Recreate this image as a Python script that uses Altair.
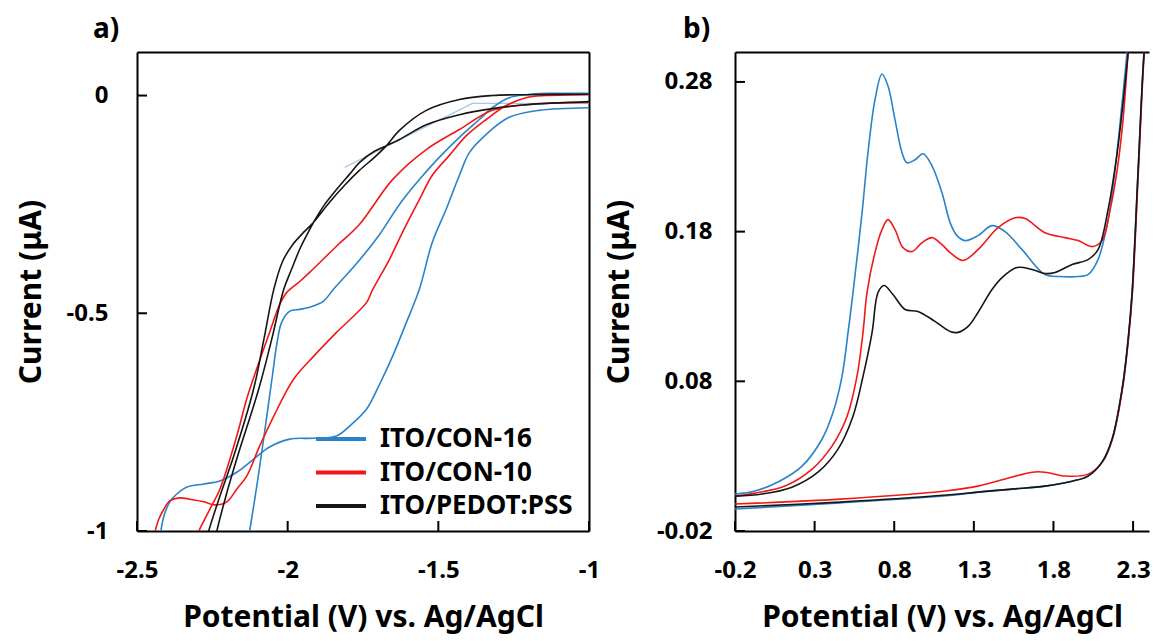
import altair as alt
import pandas as pd

FONT = "Noto Sans"
SAMPLES = ["ITO/CON-16", "ITO/CON-10", "ITO/PEDOT:PSS"]
COLORS = ["#2A83C8", "#F21818", "#161616"]

# ---------------- panel a (reduction sweep) ----------------
a_con16_x = [-1.000, -1.142, -1.209, -1.265, -1.321, -1.364, -1.430, -1.497, -1.563, -1.629,
             -1.695, -1.762, -1.848, -1.881, -1.927, -1.960, -1.993, -2.020, -2.036, -2.050,
             -2.073, -2.099, -2.126, -2.137,
             -2.436, -2.421, -2.411, -2.391, -2.368, -2.334, -2.278, -2.225, -2.169, -2.113,
             -2.060, -1.993, -1.914, -1.838, -1.788, -1.738, -1.695, -1.652, -1.606, -1.563,
             -1.520, -1.474, -1.430, -1.397, -1.341, -1.265, -1.166, -1.000]
a_con16_y = [0.005, 0.005, 0.002, -0.005, -0.028, -0.055, -0.096, -0.142, -0.193, -0.250,
             -0.319, -0.378, -0.445, -0.472, -0.486, -0.491, -0.495, -0.521, -0.571, -0.640,
             -0.755, -0.881, -1.000, -1.050,
             -1.050, -1.000, -0.966, -0.933, -0.915, -0.899, -0.892, -0.885, -0.865, -0.835,
             -0.807, -0.789, -0.787, -0.782, -0.755, -0.720, -0.663, -0.599, -0.521, -0.445,
             -0.337, -0.261, -0.183, -0.131, -0.089, -0.050, -0.034, -0.028]

a_con10_x = [-1.000, -1.209, -1.321, -1.430, -1.540, -1.652, -1.762, -1.838, -1.927, -1.960,
             -2.003, -2.026, -2.060, -2.103, -2.136, -2.169, -2.225, -2.258, -2.295, -2.330,
             -2.460, -2.440, -2.427, -2.411, -2.391, -2.358, -2.325, -2.278, -2.242, -2.202,
             -2.169, -2.136, -2.093, -2.046, -1.980, -1.914, -1.838, -1.738, -1.719, -1.662,
             -1.619, -1.563, -1.520, -1.464, -1.407, -1.341, -1.275, -1.209, -1.142, -1.000]
a_con10_y = [-0.016, -0.021, -0.034, -0.078, -0.124, -0.193, -0.296, -0.346, -0.406, -0.427,
             -0.452, -0.479, -0.544, -0.628, -0.697, -0.782, -0.904, -0.950, -1.000, -1.050,
             -1.050, -1.000, -0.972, -0.950, -0.931, -0.924, -0.927, -0.933, -0.940, -0.933,
             -0.904, -0.874, -0.805, -0.736, -0.651, -0.599, -0.544, -0.475, -0.447, -0.376,
             -0.314, -0.239, -0.183, -0.138, -0.092, -0.055, -0.023, -0.005, 0.000, 0.002]

a_pedot_x = [-1.000, -1.209, -1.321, -1.430, -1.540, -1.629, -1.672, -1.712, -1.762, -1.811,
             -1.861, -1.914, -1.944, -1.983, -2.017, -2.046, -2.079, -2.113, -2.179, -2.225,
             -2.262, -2.280,
             -2.250, -2.235, -2.205, -2.166, -2.096, -2.053, -2.013, -1.987, -1.960, -1.934,
             -1.914, -1.877, -1.838, -1.795, -1.762, -1.712, -1.672, -1.629, -1.540, -1.430,
             -1.321, -1.209, -1.000]
a_pedot_y = [0.003, 0.002, 0.000, -0.009, -0.034, -0.080, -0.115, -0.142, -0.172, -0.206,
             -0.245, -0.291, -0.312, -0.342, -0.381, -0.445, -0.560, -0.674, -0.828, -0.920,
             -1.000, -1.050,
             -1.050, -1.000, -0.920, -0.828, -0.674, -0.560, -0.445, -0.399, -0.353, -0.317,
             -0.291, -0.250, -0.216, -0.181, -0.154, -0.128, -0.115, -0.101, -0.067, -0.044,
             -0.030, -0.021, -0.014]

a_faint_x = [-1.811, -1.387, -1.000]
a_faint_y = [-0.165, -0.018, -0.018]

# ---------------- panel b (oxidation sweep) ----------------
b_con16_x = [-0.200, -0.074, 0.070, 0.221, 0.346, 0.416, 0.472, 0.510, 0.541, 0.598,
             0.635, 0.679, 0.723, 0.761, 0.805, 0.849, 0.880, 0.931, 0.981, 1.037,
             1.100, 1.151, 1.194, 1.245, 1.326, 1.414, 1.496, 1.603, 1.747, 1.841,
             1.955, 2.017, 2.080, 2.143, 2.187, 2.231, 2.262, 2.275,
             2.382, 2.369, 2.331, 2.294, 2.269, 2.231, 2.168, 2.105, 2.017, 1.917,
             1.747, 1.540, 1.326, 1.130, 0.460, -0.200]
b_con16_y = [0.0047, 0.0067, 0.0127, 0.0233, 0.0413, 0.0593, 0.0833, 0.1127, 0.1393, 0.1927,
             0.2327, 0.2680, 0.2853, 0.2773, 0.2547, 0.2327, 0.2260, 0.2280, 0.2320, 0.2240,
             0.2060, 0.1860, 0.1773, 0.1740, 0.1773, 0.1840, 0.1800, 0.1680, 0.1513, 0.1500,
             0.1500, 0.1513, 0.1613, 0.1880, 0.2213, 0.2660, 0.2993, 0.3113,
             0.3113, 0.2993, 0.2193, 0.1393, 0.1080, 0.0747, 0.0413, 0.0260, 0.0167, 0.0133,
             0.0100, 0.0080, 0.0060, 0.0035, -0.0012, -0.0053]

b_con10_x = [-0.200, -0.074, 0.114, 0.284, 0.409, 0.504, 0.566, 0.604, 0.629, 0.679,
             0.723, 0.761, 0.805, 0.855, 0.912, 0.975, 1.037, 1.100, 1.151, 1.232,
             1.326, 1.452, 1.559, 1.622, 1.747, 1.873, 1.955, 2.042, 2.105, 2.156,
             2.200, 2.237, 2.269, 2.281,
             2.385, 2.371, 2.333, 2.296, 2.271, 2.233, 2.170, 2.107, 2.017, 1.873,
             1.747, 1.666, 1.496, 1.326, 1.119, 0.460, -0.200]
b_con10_y = [0.0033, 0.0053, 0.0100, 0.0213, 0.0367, 0.0567, 0.0833, 0.1127, 0.1393, 0.1660,
             0.1813, 0.1880, 0.1813, 0.1693, 0.1667, 0.1727, 0.1760, 0.1713, 0.1660, 0.1607,
             0.1680, 0.1827, 0.1893, 0.1887, 0.1793, 0.1760, 0.1740, 0.1700, 0.1740, 0.1947,
             0.2213, 0.2547, 0.2993, 0.3113,
             0.3113, 0.2993, 0.2193, 0.1393, 0.1080, 0.0747, 0.0413, 0.0260, 0.0180, 0.0167,
             0.0193, 0.0193, 0.0147, 0.0100, 0.0067, 0.0013, -0.0020]

b_pedot_x = [-0.200, -0.030, 0.158, 0.321, 0.447, 0.541, 0.604, 0.661, 0.698, 0.736,
             0.792, 0.868, 0.949, 1.056, 1.151, 1.201, 1.264, 1.326, 1.414, 1.477,
             1.571, 1.666, 1.747, 1.810, 1.917, 2.017, 2.080, 2.143, 2.200, 2.237,
             2.269, 2.281,
             2.382, 2.369, 2.331, 2.294, 2.269, 2.231, 2.168, 2.105, 2.017, 1.917,
             1.747, 1.540, 1.326, 1.130, 0.460, -0.200]
b_pedot_y = [0.0033, 0.0047, 0.0093, 0.0193, 0.0347, 0.0567, 0.0833, 0.1127, 0.1393, 0.1440,
             0.1380, 0.1280, 0.1267, 0.1200, 0.1133, 0.1127, 0.1167, 0.1260, 0.1413, 0.1493,
             0.1560, 0.1547, 0.1520, 0.1527, 0.1580, 0.1613, 0.1680, 0.1947, 0.2327, 0.2660,
             0.2993, 0.3113,
             0.3113, 0.2993, 0.2193, 0.1393, 0.1080, 0.0747, 0.0413, 0.0260, 0.0167, 0.0133,
             0.0100, 0.0080, 0.0060, 0.0040, -0.0007, -0.0040]

XA_TICKS = [-2.5, -2.0, -1.5, -1.0]
YA_TICKS = [-1.0, -0.5, 0.0]
XB_TICKS = [-0.2, 0.3, 0.8, 1.3, 1.8, 2.3]
YB_TICKS = [-0.02, 0.08, 0.18, 0.28]
X_TITLE = "Potential (V) vs. Ag/AgCl"
Y_TITLE = "Current (μA)"


def table(xs, ys, name):
    return pd.DataFrame({"x": xs, "y": ys, "sample": name, "i": list(range(len(xs)))})


df_a = pd.concat([table(a_con16_x, a_con16_y, SAMPLES[0]),
                  table(a_con10_x, a_con10_y, SAMPLES[1]),
                  table(a_pedot_x, a_pedot_y, SAMPLES[2])], ignore_index=True)
df_faint = table(a_faint_x, a_faint_y, "faint")
df_b = pd.concat([table(b_con16_x, b_con16_y, SAMPLES[0]),
                  table(b_con10_x, b_con10_y, SAMPLES[1]),
                  table(b_pedot_x, b_pedot_y, SAMPLES[2])], ignore_index=True)

MINUS = "replace(datum.label, '\u2212', '-')"
TICK_LEN = 10

label_style = dict(labelFont=FONT, labelFontSize=24, labelFontWeight="bold", labelColor="black",
                   titleFont=FONT, titleFontSize=30, titleFontWeight="bold", titleColor="black",
                   ticks=False, domain=True, domainColor="black", domainWidth=2,
                   grid=False, labelFlush=False, labelExpr=MINUS)
frame_style = dict(labels=False, title=None, domain=True, ticks=False, domainColor="black",
                   domainWidth=2, grid=False)


def panel(df, xdom, ydom, xt, yt, xfmt, yfmt, width, height, title_text, title_dx,
          ylab_pad, ytitle_pad, with_legend, right_frame, extra=None):
    xs = alt.Scale(domain=xdom, nice=False, zero=False)
    ys = alt.Scale(domain=ydom, nice=False, zero=False)
    if with_legend:
        leg = alt.Legend(orient="none", legendX=191, legendY=374, title=None,
                         symbolType="M-2.5,0H2.5", symbolSize=400, symbolStrokeWidth=4,
                         labelFont=FONT, labelFontSize=26, labelFontWeight="bold",
                         labelColor="black", labelOffset=26, labelLimit=500,
                         rowPadding=7.5, padding=0)
    else:
        leg = None
    color = alt.Color("sample:N", scale=alt.Scale(domain=SAMPLES, range=COLORS), legend=leg)
    lines = alt.Chart(df).mark_line(strokeWidth=1.6, clip=True, interpolate="catmull-rom").encode(
        x=alt.X("x:Q", scale=xs, axis=alt.Axis(orient="bottom", values=xt, format=xfmt,
                                              title=X_TITLE, labelPadding=27, titlePadding=20,
                                              **label_style)),
        y=alt.Y("y:Q", scale=ys, axis=alt.Axis(orient="left", values=yt, format=yfmt,
                                              title=Y_TITLE, labelPadding=ylab_pad,
                                              titlePadding=ytitle_pad, **label_style)),
        color=color,
        order="i:Q",
    )
    frame = alt.Chart(df).mark_line(opacity=0, clip=True).encode(
        x=alt.X("x:Q", scale=xs, axis=alt.Axis(orient="top", **frame_style)),
        y=alt.Y("y:Q", scale=ys,
                axis=alt.Axis(orient="right", **frame_style) if right_frame else None),
        detail="sample:N",
    )
    # short inward tick marks at the tick values
    xtick = alt.Chart(pd.DataFrame({"v": xt})).mark_rule(color="black", strokeWidth=2).encode(
        x=alt.X("v:Q", scale=xs, axis=None),
        y=alt.value(height), y2=alt.value(height - TICK_LEN),
    )
    ytick = alt.Chart(pd.DataFrame({"v": yt})).mark_rule(color="black", strokeWidth=2).encode(
        y=alt.Y("v:Q", scale=ys, axis=None),
        x=alt.value(0), x2=alt.value(TICK_LEN),
    )
    layers = []
    if extra is not None:
        layers.append(alt.Chart(extra).mark_line(strokeWidth=1.2, clip=True, color="#A8C8EA").encode(
            x=alt.X("x:Q", scale=xs, axis=None),
            y=alt.Y("y:Q", scale=ys, axis=None),
            order="i:Q",
        ))
    layers += [lines, frame, xtick, ytick]
    return alt.layer(*layers).resolve_axis(x="independent", y="independent").properties(
        width=width, height=height,
        title=alt.TitleParams(title_text, anchor="start", frame="group", dx=title_dx, offset=8,
                              font=FONT, fontSize=28, fontWeight="bold", color="black"),
    )


panel_a = panel(df_a, [-2.5, -1.0], [-1.0, 0.1], XA_TICKS, YA_TICKS, ".1~f", ".1~f",
                452, 479, "a)", -44, 29, 20, True, True, extra=df_faint)
panel_b = panel(df_b, [-0.2, 2.4], [-0.02, 0.3], XB_TICKS, YB_TICKS, ".1f", ".2f",
                414, 479, "b)", -52, 23, 22, False, False)

chart = alt.hconcat(panel_a, panel_b, spacing=146, bounds="flush").resolve_scale(
    color="independent"
).properties(
    padding={"left": 8, "top": 8, "right": 0, "bottom": 4},
    background="white",
).configure_view(strokeWidth=0)

chart.save("out.html", embed_options={"renderer": "svg", "actions": False})
